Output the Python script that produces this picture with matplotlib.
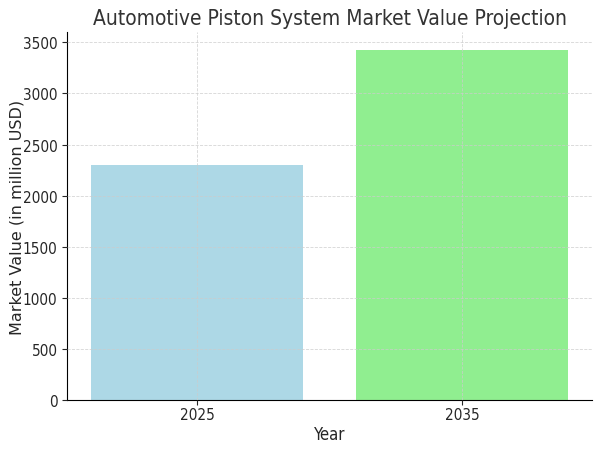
import matplotlib
matplotlib.use("Agg")
import matplotlib.pyplot as plt

# dados
anos = ["2025", "2035"]
valores = [2300, 3430]
cores = ["lightblue", "lightgreen"]

plt.rcParams["font.family"] = "DejaVu Sans"
plt.rcParams["font.stretch"] = "condensed"

fig, ax = plt.subplots(figsize=(6, 4.52), dpi=100)

ax.bar(anos, valores, color=cores, width=0.8, zorder=2)

ax.set_title("Automotive Piston System Market Value Projection",
             fontsize=15, color="#333333", stretch="condensed")
ax.set_xlabel("Year", fontsize=12, color="#262626", stretch="condensed",
              labelpad=2)
ax.set_ylabel("Market Value (in million USD)", fontsize=11.5, color="#262626",
              stretch="normal")
ax.yaxis.set_label_coords(-0.082, 0.5)

ax.grid(True, linestyle="--", linewidth=0.6, color="#cccccc", alpha=0.8, zorder=3)
ax.set_axisbelow(False)
ax.spines["top"].set_visible(False)
ax.spines["right"].set_visible(False)
ax.tick_params(labelsize=11, colors="#262626")
ax.tick_params(axis="x", pad=1.5)
for lab in ax.get_xticklabels() + ax.get_yticklabels():
    lab.set_fontstretch("condensed")

plt.subplots_adjust(left=0.112, right=0.987, top=0.927, bottom=0.113)
plt.savefig("out.png", dpi=100)
